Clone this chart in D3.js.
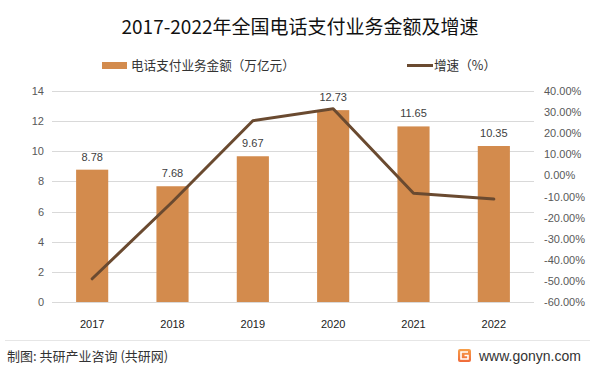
<!DOCTYPE html>
<html>
<head>
<meta charset="utf-8">
<script src="https://cdn.jsdelivr.net/npm/d3@7"></script>
<style>
  body { margin: 0; background: #fff; }
  svg { display: block; font-family: "Noto Sans CJK SC", "Noto Sans", sans-serif; }
</style>
</head>
<body>
<div id="chart"></div>
<script>
// data
const years = ['2017', '2018', '2019', '2020', '2021', '2022'];
const amounts = [8.78, 7.68, 9.67, 12.73, 11.65, 10.35];
const growth = [-49.0, -12.5, 25.9, 31.6, -8.5, -11.2];
const leftTicks = [0, 2, 4, 6, 8, 10, 12, 14];
const rightTicks = [-60, -50, -40, -30, -20, -10, 0, 10, 20, 30, 40];

const width = 599, height = 372;
const margin = { top: 91, right: 65, bottom: 70, left: 52 };
const barColor = '#D38B4D', lineColor = '#6A4A30';

const svg = d3.select('#chart').append('svg')
  .attr('width', width)
  .attr('height', height);

const x = d3.scaleBand()
  .domain(years)
  .range([margin.left, width - margin.right])
  .paddingInner(0.6)
  .paddingOuter(0.3);

const y = d3.scaleLinear().domain([0, 14]).range([height - margin.bottom, margin.top]);
const y2 = d3.scaleLinear().domain([-60, 40]).range([height - margin.bottom, margin.top]);

// title
svg.append('text')
  .attr('x', 300).attr('y', 34)
  .attr('text-anchor', 'middle')
  .attr('font-size', 19)
  .attr('fill', '#111')
  .text('2017-2022年全国电话支付业务金额及增速');

// legend
svg.append('rect').attr('x', 102).attr('y', 62).attr('width', 25).attr('height', 7).attr('fill', barColor);
svg.append('text').attr('x', 131).attr('y', 70).attr('font-size', 12.6).attr('fill', '#333')
  .text('电话支付业务金额（万亿元）');
svg.append('line').attr('x1', 407).attr('x2', 433).attr('y1', 65.5).attr('y2', 65.5)
  .attr('stroke', lineColor).attr('stroke-width', 3);
svg.append('text').attr('x', 434).attr('y', 70).attr('font-size', 12.6).attr('fill', '#333')
  .text('增速（%）');

// grid
svg.append('g')
  .selectAll('line')
  .data(leftTicks)
  .join('line')
  .attr('x1', margin.left).attr('x2', width - margin.right)
  .attr('y1', d => Math.round(y(d)) + 0.5).attr('y2', d => Math.round(y(d)) + 0.5)
  .attr('stroke', '#d9d9d9');

// left axis
const gl = svg.append('g')
  .attr('transform', `translate(${margin.left - 8},0)`)
  .call(d3.axisLeft(y).tickValues(leftTicks).tickSize(0).tickPadding(0));
gl.select('.domain').remove();
gl.selectAll('text').attr('font-size', 11).attr('fill', '#595959').attr('font-family', '"Liberation Sans", sans-serif');

// right axis
const gr = svg.append('g')
  .attr('transform', `translate(${width - margin.right + 10},0)`)
  .call(d3.axisRight(y2).tickValues(rightTicks).tickSize(0).tickPadding(0)
    .tickFormat(d => d.toFixed(2) + '%'));
gr.select('.domain').remove();
gr.selectAll('text').attr('font-size', 11).attr('fill', '#595959').attr('font-family', '"Liberation Sans", sans-serif');

// x axis
const gx = svg.append('g')
  .attr('transform', `translate(0,${height - margin.bottom + 18})`)
  .call(d3.axisBottom(x).tickSize(0).tickPadding(0));
gx.select('.domain').remove();
gx.selectAll('text').attr('font-size', 11).attr('fill', '#222').attr('font-family', '"Liberation Sans", sans-serif');

// bars
svg.append('g')
  .selectAll('rect')
  .data(amounts)
  .join('rect')
  .attr('x', (d, i) => x(years[i]))
  .attr('y', d => y(d))
  .attr('width', x.bandwidth())
  .attr('height', d => y(0) - y(d))
  .attr('fill', barColor);

// bar labels
svg.append('g')
  .selectAll('text')
  .data(amounts)
  .join('text')
  .attr('x', (d, i) => x(years[i]) + x.bandwidth() / 2)
  .attr('y', d => y(d) - 9)
  .attr('text-anchor', 'middle')
  .attr('font-size', 11)
  .attr('fill', '#404040')
  .attr('font-family', '"Liberation Sans", sans-serif')
  .text(d => d.toFixed(2));

// growth line
const line = d3.line()
  .x((d, i) => x(years[i]) + x.bandwidth() / 2)
  .y(d => y2(d));

svg.append('path')
  .datum(growth)
  .attr('d', line)
  .attr('fill', 'none')
  .attr('stroke', lineColor)
  .attr('stroke-width', 3)
  .attr('stroke-linejoin', 'round')
  .attr('stroke-linecap', 'round');

// footer
svg.append('line').attr('x1', 5).attr('x2', 590).attr('y1', 340.5).attr('y2', 340.5).attr('stroke', '#e6e6e6');
svg.append('text').attr('x', 7).attr('y', 361).attr('font-size', 13).attr('fill', '#333')
  .text('制图: 共研产业咨询 (共研网)');

const grad = svg.append('defs').append('linearGradient').attr('id', 'lg')
  .attr('x1', 0).attr('y1', 0).attr('x2', 0).attr('y2', 1);
grad.append('stop').attr('offset', '0%').attr('stop-color', '#F7A04A');
grad.append('stop').attr('offset', '100%').attr('stop-color', '#F06A3A');
svg.append('rect').attr('x', 458).attr('y', 349).attr('width', 13).attr('height', 13).attr('rx', 2).attr('fill', 'url(#lg)');
svg.append('path').attr('d', 'M468 352 H461 V359 H468 V355.5 H464.5')
  .attr('fill', 'none').attr('stroke', '#fff').attr('stroke-width', 1.6);
svg.append('text').attr('x', 479).attr('y', 361).attr('font-size', 14).attr('fill', '#333')
  .attr('font-family', '"Liberation Sans", sans-serif')
  .text('www.gonyn.com');
</script>
</body>
</html>
